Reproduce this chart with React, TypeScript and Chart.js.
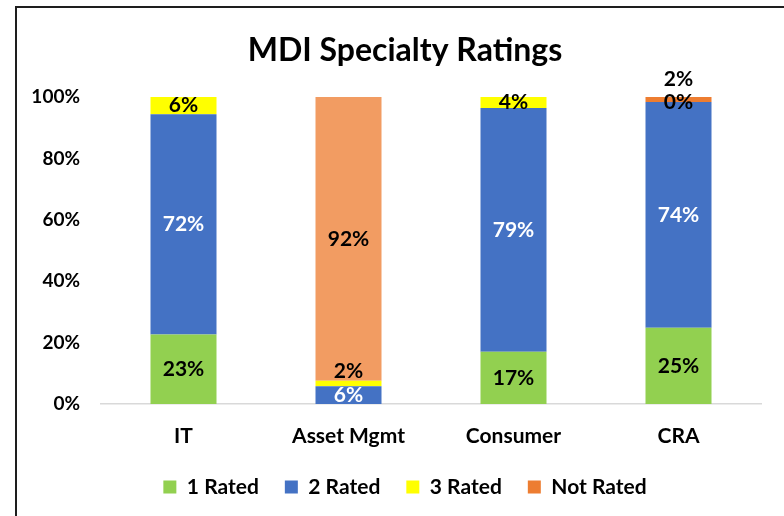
import { useEffect, useRef } from 'react';
import { Chart, registerables } from 'chart.js';

Chart.register(...registerables);

const categories = ['IT', 'Asset Mgmt', 'Consumer', 'CRA'];
const seriesNames = ['1 Rated', '2 Rated', '3 Rated', 'Not Rated'];
const rated1 = [22.6, null, 17.0, 24.8];
const rated2 = [71.8, 5.8, 79.4, 73.6];
const rated3 = [5.6, 1.8, 3.6, 0];
const notRated = [null, 92.4, null, 1.6];
const yTickValues = [0, 20, 40, 60, 80, 100];

const FONT = 'Lato, "Open Sans", sans-serif';

export default function App() {
  const ref = useRef<HTMLCanvasElement>(null);

  useEffect(() => {
    if (!ref.current) return;

    const framePlugin = {
      id: 'frame',
      beforeDraw(chart: any) {
        const c = chart.ctx;
        c.save();
        c.fillStyle = '#ffffff';
        c.fillRect(0, 0, chart.width, chart.height);
        c.strokeStyle = '#1e1e1e';
        c.lineWidth = 2;
        c.beginPath();
        c.moveTo(16, chart.height);
        c.lineTo(16, 7);
        c.lineTo(chart.width, 7);
        c.stroke();
        c.restore();
      },
    };

    const labelShift: Record<string, number> = { '2-1': -12, '3-3': -20 };

    const labelPlugin = {
      id: 'barLabels',
      afterDatasetsDraw(chart: any) {
        const c = chart.ctx;
        c.save();
        c.font = `bold 21px ${FONT}`;
        c.textAlign = 'center';
        c.textBaseline = 'middle';
        chart.data.datasets.forEach((ds: any, di: number) => {
          const meta = chart.getDatasetMeta(di);
          meta.data.forEach((bar: any, i: number) => {
            const v = ds.data[i];
            if (v === null || v === undefined) return;
            const shift = labelShift[`${di}-${i}`] || 0;
            const y = (bar.y + bar.base) / 2 + shift;
            c.fillStyle = di === 1 ? '#ffffff' : '#000000';
            c.fillText(`${Math.round(v)}%`, bar.x, y);
          });
        });
        c.restore();
      },
    };

    const chart = new Chart(ref.current, {
      type: 'bar',
      data: {
        labels: categories,
        datasets: [
          { label: seriesNames[0], data: rated1, backgroundColor: '#92D050' },
          { label: seriesNames[1], data: rated2, backgroundColor: '#4472C4' },
          { label: seriesNames[2], data: rated3, backgroundColor: '#FFFF00' },
          {
            label: seriesNames[3],
            data: notRated,
            backgroundColor: (ctx: any) => (ctx.dataIndex === 1 ? '#F29C62' : '#ED7D31'),
          },
        ],
      },
      options: {
        responsive: false,
        animation: false,
        devicePixelRatio: 1,
        datasets: { bar: { barPercentage: 0.4, categoryPercentage: 1, borderWidth: 0 } },
        layout: { padding: { left: 0, right: 0, top: 0, bottom: 8.5 } },
        plugins: {
          title: {
            display: true,
            text: 'MDI Specialty Ratings',
            color: '#000000',
            font: { family: FONT, size: 32, weight: 'bold' },
            padding: { top: 31, bottom: 27.6 },
          },
          legend: {
            position: 'bottom',
            labels: {
              boxWidth: 13,
              boxHeight: 13,
              padding: 26,
              color: '#000000',
              font: { family: FONT, size: 21, weight: 'bold' },
            },
          },
          tooltip: { enabled: false },
        },
        scales: {
          x: {
            stacked: true,
            grid: { display: false, drawTicks: false },
            border: { display: true, color: '#D9D9D9', width: 1.5 },
            ticks: { color: '#000000', font: { family: FONT, size: 21, weight: 'bold' }, padding: 20 },
            afterFit(s: any) {
              s.height = 46.5;
            },
          },
          y: {
            stacked: true,
            min: 0,
            max: 100,
            grid: { display: false, drawTicks: false },
            border: { display: false },
            afterBuildTicks(s: any) {
              s.ticks = yTickValues.map((v) => ({ value: v }));
            },
            ticks: {
              callback: (v: any) => `${v}%`,
              color: '#000000',
              font: { family: FONT, size: 19, weight: 'bold' },
              padding: 21,
            },
            afterFit(s: any) {
              s.width = 101;
            },
          },
          spacer: {
            type: 'linear',
            position: 'right',
            display: true,
            grid: { display: false, drawTicks: false },
            border: { display: false },
            ticks: { display: false },
            afterFit(s: any) {
              s.width = 49;
            },
          },
        },
      },
      plugins: [framePlugin, labelPlugin],
    });

    return () => chart.destroy();
  }, []);

  return (
    <div style={{ position: 'fixed', left: 0, top: 0, width: 784, height: 516, overflow: 'hidden' }}>
      <canvas ref={ref} width={810} height={516} style={{ display: 'block' }} />
    </div>
  );
}
